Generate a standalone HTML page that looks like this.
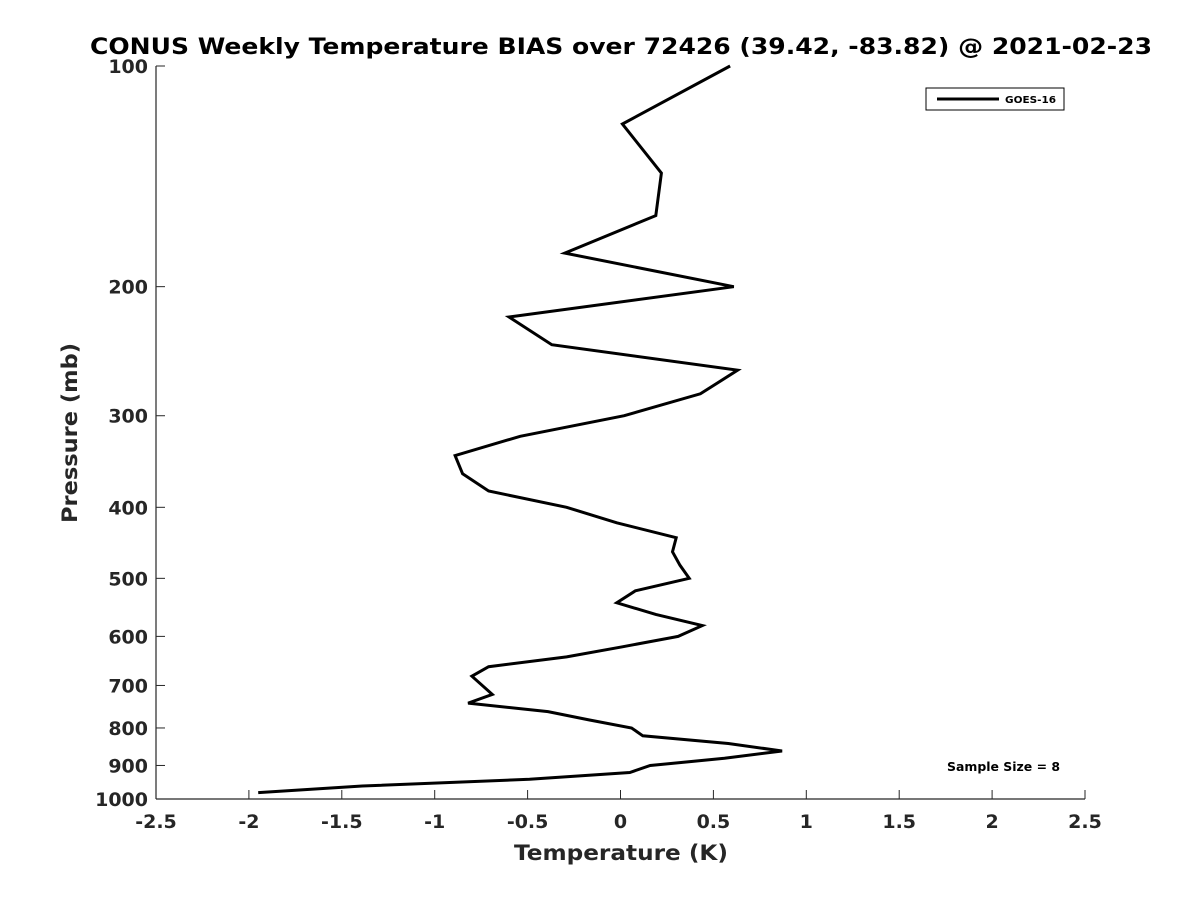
<!DOCTYPE html>
<html><head><meta charset="utf-8"><style>
body{margin:0;background:#fff;}
svg{display:block;font-family:"DejaVu Sans","Liberation Sans",sans-serif;}
</style></head><body>
<svg id="chart" width="1200" height="900" viewBox="0 0 1200 900">
<text x="90" y="54" textLength="1062" lengthAdjust="spacingAndGlyphs" font-size="22" font-weight="bold" fill="#000">CONUS Weekly Temperature BIAS over 72426 (39.42, -83.82) @ 2021-02-23</text>
<g id="axes"></g>
<polyline id="line" fill="none" stroke="#000" stroke-width="3" stroke-linejoin="miter"/>
<text x="514" y="860" textLength="214" lengthAdjust="spacingAndGlyphs" font-size="21" font-weight="bold" fill="#262626">Temperature (K)</text>
<text transform="translate(77,523) rotate(-90)" textLength="180" lengthAdjust="spacingAndGlyphs" font-size="21" font-weight="bold" fill="#262626">Pressure (mb)</text>
<g>
<rect x="926" y="88" width="138" height="22" fill="#fff" stroke="#000" stroke-width="1"/>
<line x1="937" y1="99" x2="999" y2="99" stroke="#000" stroke-width="3"/>
<text x="1005" y="103" textLength="51" lengthAdjust="spacingAndGlyphs" font-size="10" font-weight="bold" fill="#000">GOES-16</text>
</g>
<text x="947" y="771" textLength="113" lengthAdjust="spacingAndGlyphs" font-size="12" font-weight="bold" fill="#000">Sample Size = 8</text>
</svg>
<script>
const pressures = [100,120,140,160,180,200,220,240,260,280,300,320,340,360,380,400,420,440,460,480,500,520,540,560,580,600,620,640,660,680,720,740,760,780,800,820,840,860,880,900,920,940,960,980];
const biasGoes16 = [0.59,0.01,0.22,0.19,-0.30,0.61,-0.60,-0.37,0.63,0.43,0.02,-0.54,-0.89,-0.85,-0.71,-0.29,-0.02,0.30,0.28,0.32,0.37,0.08,-0.02,0.19,0.44,0.31,0.01,-0.29,-0.71,-0.80,-0.69,-0.82,-0.39,-0.17,0.06,0.12,0.58,0.87,0.56,0.16,0.05,-0.49,-1.39,-1.95];
const xTicks = [-2.5,-2,-1.5,-1,-0.5,0,0.5,1,1.5,2,2.5];
const xTickLabels = ["-2.5","-2","-1.5","-1","-0.5","0","0.5","1","1.5","2","2.5"];
const yTicks = [100,200,300,400,500,600,700,800,900,1000];
const yTickLabels = ["100","200","300","400","500","600","700","800","900","1000"];

const NS='http://www.w3.org/2000/svg';
const L=156,R=1085,T=66,B=799;
function xs(v){return L+(v-(-2.5))/5*(R-L);}
function ys(p){return T+(Math.log10(p)-2)*(B-T);}
const axes=document.getElementById('axes');
function mk(tag,attrs){const e=document.createElementNS(NS,tag);for(const k in attrs)e.setAttribute(k,attrs[k]);return e;}
const xl=mk('line',{x1:L,y1:B,x2:R,y2:B,stroke:'#262626','stroke-width':1.2});


axes.appendChild(xl);
const yl=mk('line',{x1:L,y1:T,x2:L,y2:B,stroke:'#262626','stroke-width':1.2});


axes.appendChild(yl);
xTicks.forEach((v,i)=>{
  const x=xs(v);
  const t=mk('line',{x1:x,y1:B,x2:x,y2:B-9,stroke:'#262626','stroke-width':1});
  
  
  axes.appendChild(t);
  const s=mk('text',{x:x,y:B+29,'text-anchor':'middle','font-size':19,'font-weight':'bold',fill:'#262626'});
  s.textContent=xTickLabels[i];
  
  
  axes.appendChild(s);
});
yTicks.forEach((p,i)=>{
  const y=ys(p);
  const t=mk('line',{x1:L,y1:y,x2:L+9,y2:y,stroke:'#262626','stroke-width':1});
  
  
  axes.appendChild(t);
  const s=mk('text',{x:L-8,y:y+7,'text-anchor':'end','font-size':19,'font-weight':'bold',fill:'#262626'});
  s.textContent=yTickLabels[i];
  
  
  axes.appendChild(s);
});
document.getElementById('line').setAttribute('points',pressures.map((p,i)=>xs(biasGoes16[i]).toFixed(1)+','+ys(p).toFixed(1)).join(' '));
</script>
</body></html>
